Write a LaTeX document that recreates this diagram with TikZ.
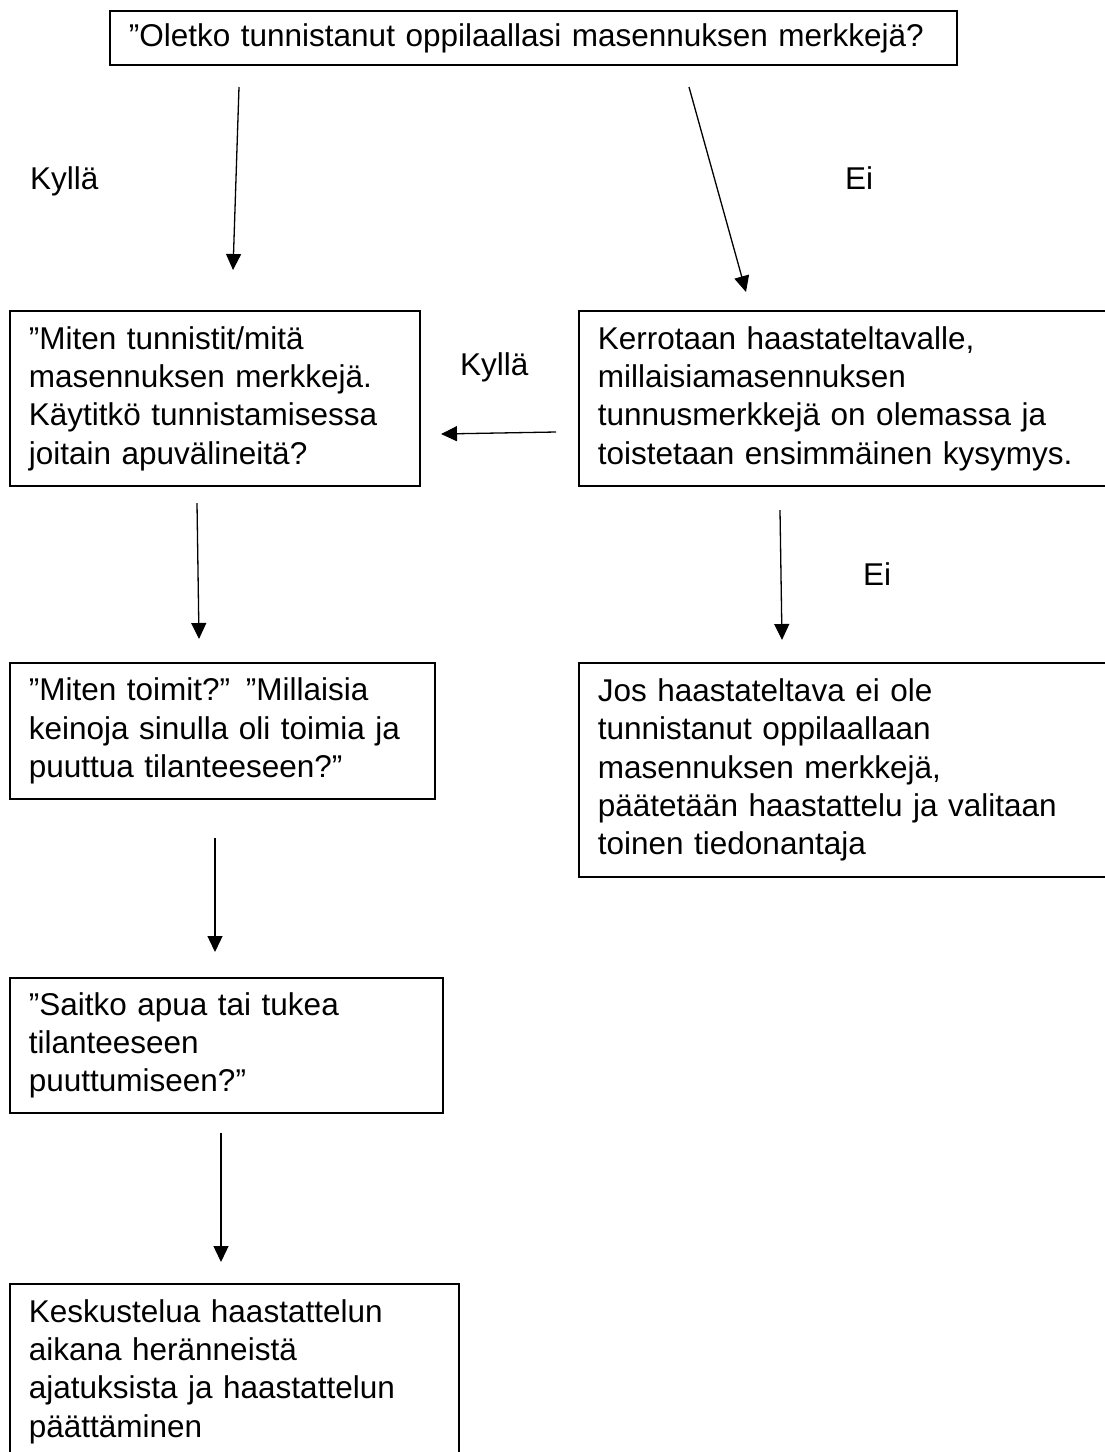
\documentclass[tikz,border=0pt]{standalone}
\usepackage{fontspec}
\setmainfont{Liberation Sans}
\usetikzlibrary{arrows.meta}
\begin{document}
\begin{tikzpicture}[x=1pt,y=-1pt,
  txt/.style={font=\fontsize{31.5}{38.3}\selectfont},
  box/.style={txt, draw, line width=1.8pt, anchor=north west, align=left, inner xsep=19pt, inner ysep=0pt},
  lbl/.style={txt, anchor=base west, inner sep=0pt},
  arr/.style={line width=1.3pt, -{Triangle[length=16pt,width=15pt]}}]
\useasboundingbox (0,0) rectangle (1105,1452);
\fill[white] (0,0) rectangle (1105,1452);

\node[box, minimum width=847pt, minimum height=54pt, text width=809pt] (q) at (109,10)
  {”Oletko tunnistanut oppilaallasi masennuksen merkkejä?};
\node[box, minimum width=410pt, minimum height=175pt, text width=372pt] (a) at (9,310)
  {”Miten tunnistit/mitä\\masennuksen merkkejä.\\Käytitkö tunnistamisessa\\joitain apuvälineitä?};
\node[box, minimum width=580pt, minimum height=175pt, text width=542pt] (b) at (578,310)
  {Kerrotaan haastateltavalle,\\millaisiamasennuksen\\tunnusmerkkejä on olemassa ja\\toistetaan ensimmäinen kysymys.};
\node[box, minimum width=425pt, minimum height=136pt, text width=387pt] (c) at (9,662)
  {”Miten toimit?” ”Millaisia\\keinoja sinulla oli toimia ja\\puuttua tilanteeseen?”};
\node[box, minimum width=580pt, minimum height=214pt, text width=542pt] (d) at (578,662)
  {Jos haastateltava ei ole\\tunnistanut oppilaallaan\\masennuksen merkkejä,\\päätetään haastattelu ja valitaan\\toinen tiedonantaja};
\node[box, minimum width=433pt, minimum height=135pt, text width=395pt] (e) at (9,977)
  {”Saitko apua tai tukea\\tilanteeseen\\puuttumiseen?”};
\node[box, minimum width=449pt, minimum height=175pt, text width=411pt] (f) at (9,1283)
  {Keskustelua haastattelun\\aikana heränneistä\\ajatuksista ja haastattelun\\päättäminen};

\coordinate (q1) at (239,87);   \coordinate (a0) at (233,270);
\coordinate (q2) at (689,87);   \coordinate (b0) at (746,292);
\coordinate (b1) at (556,432);  \coordinate (a2) at (441,434);
\coordinate (a1) at (197,503);  \coordinate (c0) at (199,639);
\coordinate (b2) at (780,510);  \coordinate (d0) at (782,640);
\coordinate (c1) at (215,838);  \coordinate (e0) at (215,952);
\coordinate (e1) at (221,1133); \coordinate (f0) at (221,1262);

\draw[arr] (q1) -- (a0);
\draw[arr] (q2) -- (b0);
\draw[arr] (b1) -- (a2);
\draw[arr] (a1) -- (c0);
\draw[arr] (b2) -- (d0);
\draw[arr] (c1) -- (e0);
\draw[arr] (e1) -- (f0);

\node[lbl] (l1) at (30,189) {Kyllä};
\node[lbl] (l2) at (845,189) {Ei};
\node[lbl] (l3) at (460,375) {Kyllä};
\node[lbl] (l4) at (863,585) {Ei};
\end{tikzpicture}
\end{document}
